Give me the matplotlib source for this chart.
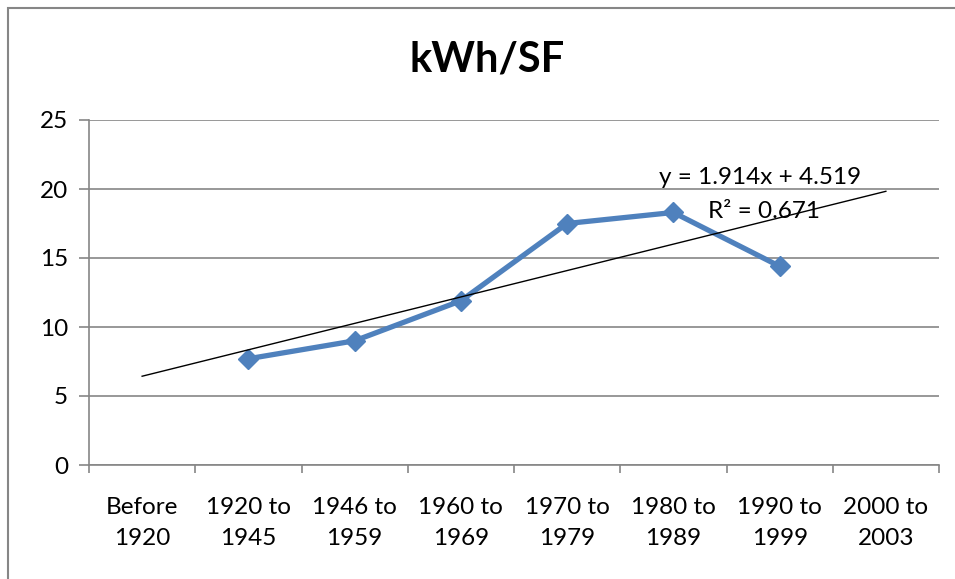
import numpy as np
import matplotlib.pyplot as plt
from matplotlib.patches import Rectangle

categories = ['Before\n1920', '1920 to\n1945', '1946 to\n1959', '1960 to\n1969',
              '1970 to\n1979', '1980 to\n1989', '1990 to\n1999', '2000 to\n2003']
kwh_sf = [np.nan, 7.7, 9.0, 11.9, 17.5, 18.3, 14.4, np.nan]
eq_label = 'y = 1.914x + 4.519'
r2_label = 'R² = 0.671'

plt.rcParams['font.family'] = ['Lato', 'DejaVu Sans']

x = np.arange(len(categories))
y = np.array(kwh_sf)

# linear trendline, excel style (x counted from 1)
ok = ~np.isnan(y)
slope, icpt = np.polyfit(x[ok] + 1, y[ok], 1)

fig = plt.figure(figsize=(9.55, 5.79), dpi=100)
fig.patches.append(Rectangle((8 / 955, -0.1), 1.2, 1 - 8 / 579 + 0.1,
                             transform=fig.transFigure, fill=False,
                             edgecolor='#868686', linewidth=1.5))
ax = fig.add_axes([89 / 955, 114 / 579, 850 / 955, 345 / 579])

ax.plot(x, y, color='#4F81BD', linewidth=3.8, marker='D', markersize=10.5,
        zorder=3)
ax.plot(x, slope * (x + 1) + icpt, color='black', linewidth=1, zorder=4)

ax.set_xlim(-0.5, len(categories) - 0.5)
ax.set_ylim(0, 25)
ax.set_yticks([0, 5, 10, 15, 20, 25])
ax.set_xticks(x)
ax.set_xticklabels(categories, fontsize=17.5, linespacing=1.6)
ax.set_xticks(np.arange(len(categories) + 1) - 0.5, minor=True)
ax.tick_params(axis='x', which='major', length=0, pad=23)
ax.tick_params(axis='x', which='minor', length=6, color='#868686', width=1.2)
ax.tick_params(axis='y', length=7, color='#868686', width=1.2, labelsize=17.5, pad=8)

ax.grid(axis='y', color='#868686', linewidth=1.2)
ax.set_axisbelow(True)
for s in ['top', 'right']:
    ax.spines[s].set_visible(False)
for s in ['left', 'bottom']:
    ax.spines[s].set_color('#868686')
    ax.spines[s].set_linewidth(1.2)

ax.text(5.82, 20.8, eq_label, fontsize=17.5, ha='center', va='center')
ax.text(5.85, 18.4, r2_label, fontsize=17.5, ha='center', va='center')

fig.text(487 / 955, 1 - 60 / 579, 'kWh/SF', fontsize=30, fontweight='bold',
         ha='center', va='center')

fig.savefig('out.png', dpi=100)
